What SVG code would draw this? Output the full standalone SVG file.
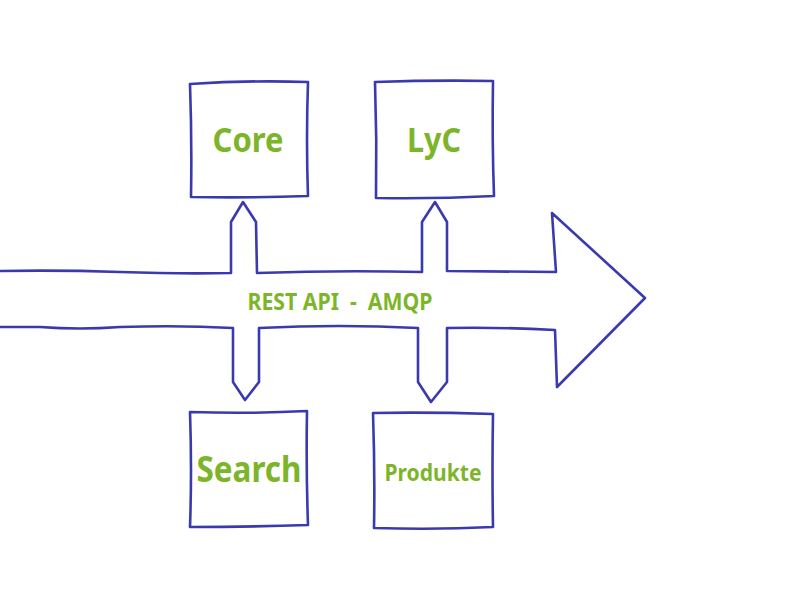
<svg xmlns="http://www.w3.org/2000/svg" width="800" height="600" viewBox="0 0 800 600">
<style>
.ln{fill:none;stroke:#3a3aae;stroke-width:2.6;stroke-linejoin:round;stroke-linecap:round}
.t{font-family:"Noto Sans","Open Sans",sans-serif;font-weight:bold;fill:#7db52a;text-anchor:middle}
</style>
<rect width="800" height="600" fill="#ffffff"/>
<g id="connectors">
<path class="ln" d="M0,271 Q60,270 120,272 T231,273 L231,222 L243,202 L256,222 L257,273 Q340,270 422,272 L422,222 L435,202 L447,222 L447,271 L556,272 L552,213 L645,298 L557,387 L555,330 Q500,327 447,328 L447,382 L431,402 L418,382 L418,328 Q340,324 259,328 L259,382 L245,400 L233,382 L233,328 Q180,325 120,327 Q80,330 40,327 L0,327"/>
</g>
<g id="core">
<path class="ln" d="M190,84 Q250,80 308,82 Q306,140 308,196 Q250,198 191,197 Q192,140 190,84 Z"/>
<text class="t" x="248" y="152" font-size="34" textLength="71" lengthAdjust="spacingAndGlyphs">Core</text>
</g>
<g id="lyc">
<path class="ln" d="M375,82 Q435,80 493,81 Q492,140 494,196 Q435,199 376,198 Q377,140 375,82 Z"/>
<text class="t" x="434" y="152" font-size="34" textLength="54" lengthAdjust="spacingAndGlyphs">LyC</text>
</g>
<g id="search">
<path class="ln" d="M190,412 Q250,414 307,411 Q306,470 308,525 Q250,527 190,527 Q192,470 190,412 Z"/>
<text class="t" x="249" y="482" font-size="35" textLength="105" lengthAdjust="spacingAndGlyphs">Search</text>
</g>
<g id="produkte">
<path class="ln" d="M373,413 Q430,412 493,414 Q492,470 493,527 Q435,530 374,528 Q375,470 373,413 Z"/>
<text class="t" x="433" y="481" font-size="23" textLength="97" lengthAdjust="spacingAndGlyphs">Produkte</text>
</g>
<text class="t" x="340" y="310" font-size="23" xml:space="preserve" textLength="185" lengthAdjust="spacingAndGlyphs">REST API  -  AMQP</text>
</svg>
